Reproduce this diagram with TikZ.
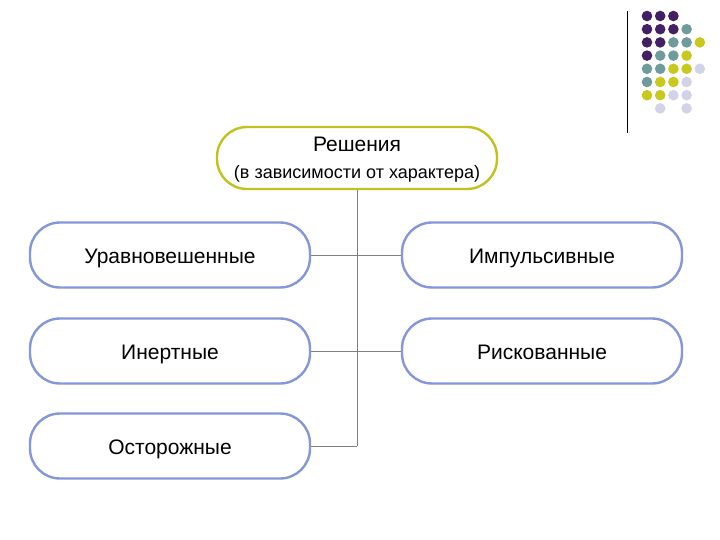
\documentclass[tikz,border=0pt]{standalone}
\usepackage{fontspec}
\setmainfont{Liberation Sans}
\definecolor{olivebd}{HTML}{C2C21E}
\definecolor{bluebd}{HTML}{8497D9}
\definecolor{dotpurple}{HTML}{432063}
\definecolor{dotteal}{HTML}{6E9C9C}
\definecolor{dotyellow}{HTML}{C9C81E}
\definecolor{dotlav}{HTML}{D3D3E8}
\begin{document}
\begin{tikzpicture}[x=1pt, y=-1pt,
    box/.style={draw=bluebd, line width=2.4pt, fill=white, rounded corners=30pt,
                minimum width=280pt, minimum height=65pt, text height=17pt, text depth=0pt,
                font=\fontsize{21}{24}\selectfont},
    link/.style={draw=gray, line width=0.9pt}]
    \useasboundingbox (0,0) rectangle (720,540);

    % Decoracion
    \draw[line width=1pt] (627,11) -- (627,133);
    \foreach \c/\r/\col in {0/0/dotpurple,1/0/dotpurple,2/0/dotpurple,
        0/1/dotpurple,1/1/dotpurple,2/1/dotpurple,3/1/dotteal,
        0/2/dotpurple,1/2/dotpurple,2/2/dotteal,3/2/dotteal,4/2/dotyellow,
        0/3/dotpurple,1/3/dotteal,2/3/dotteal,3/3/dotyellow,
        0/4/dotteal,1/4/dotteal,2/4/dotyellow,3/4/dotyellow,4/4/dotlav,
        0/5/dotteal,1/5/dotyellow,2/5/dotyellow,3/5/dotlav,
        0/6/dotyellow,1/6/dotyellow,2/6/dotlav,3/6/dotlav,
        1/7/dotlav,3/7/dotlav}
        \fill[\col] (647+13.2*\c, 16+13.2*\r) circle (5.3);

    % Nodos
    \node[box, draw=olivebd, minimum height=62pt, align=center, text height=42pt,
          font=\fontsize{21}{27}\selectfont] (top) at (357,158)
          {Решения\\{\fontsize{18}{18}\selectfont(в зависимости от характера)}};
    \node[box] (bal) at (170,255) {Уравновешенные};
    \node[box] (imp) at (542,255) {Импульсивные};
    \node[box] (ine) at (170,351) {Инертные};
    \node[box] (ris) at (542,351) {Рискованные};
    \node[box] (car) at (170,446) {Осторожные};
    \coordinate (trunk) at (357,446);

    % Conexiones
    \draw[link] (top.south) -- (trunk);
    \draw[link] (bal.east) -- (imp.west);
    \draw[link] (ine.east) -- (ris.west);
    \draw[link] (car.east) -- (trunk);
\end{tikzpicture}
\end{document}
